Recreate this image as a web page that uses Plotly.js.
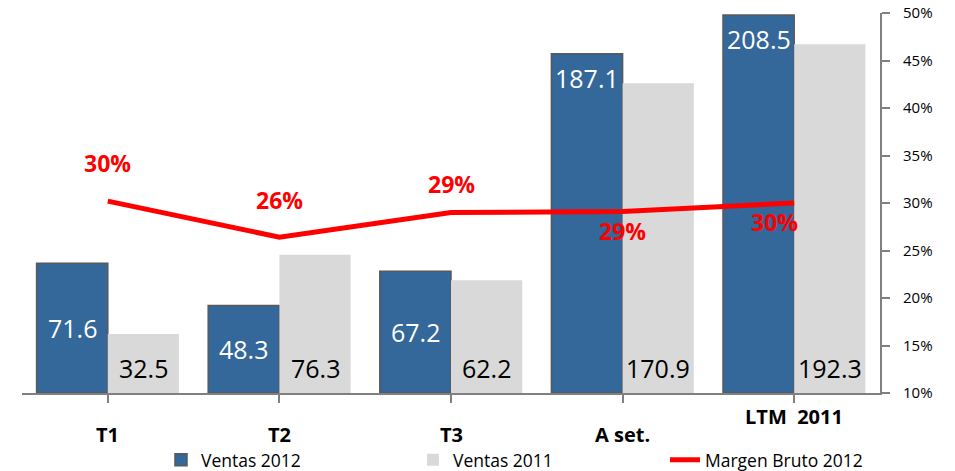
<!DOCTYPE html>
<html>
<head>
<meta charset="utf-8">
<script src="https://cdn.plot.ly/plotly-3.0.1.min.js"></script>
<style>html,body{margin:0;padding:0;background:#fff;}#chart{width:955px;height:471px;}</style>
</head>
<body>
<div id="chart"></div>
<script>
const categories = ['T1', 'T2', 'T3', 'A set.', 'LTM  2011'];
const ventas2012 = [71.6, 48.3, 67.2, 187.1, 208.5];
const ventas2011 = [32.5, 76.3, 62.2, 170.9, 192.3];
const margen2012 = [30.2, 26.4, 29.0, 29.1, 30.0];
const yTicks = [10, 15, 20, 25, 30, 35, 40, 45, 50];

const FONT = 'Open Sans, Noto Sans, sans-serif';
const idx = categories.map((c, i) => i);

const traces = [
  {
    type: 'bar', name: 'Ventas 2012', x: idx, y: ventas2012,
    marker: {color: '#34679A', line: {color: '#595959', width: 1.5}},
    hoverinfo: 'skip'
  },
  {
    type: 'bar', name: 'Ventas 2011', x: idx, y: ventas2011,
    marker: {color: '#D9D9D9', line: {width: 0}},
    hoverinfo: 'skip'
  },
  {
    type: 'scatter', mode: 'lines', name: 'Margen Bruto 2012', x: idx, y: margen2012,
    yaxis: 'y2', line: {color: '#FF0000', width: 5}, hoverinfo: 'skip'
  }
];

const annotations = [];
// blue bar labels
ventas2012.forEach((v, i) => {
  const tall = v > 100;
  annotations.push({
    xref: 'x', yref: 'y', x: i - 0.2075, y: tall ? v : v / 2,
    yshift: tall ? -24 : 0, yanchor: 'middle', showarrow: false,
    text: v.toFixed(1), font: {family: FONT, size: 25, color: '#FFFFFF'}
  });
});
// gray bar labels
ventas2011.forEach((v, i) => {
  annotations.push({
    xref: 'x', yref: 'y', x: i + 0.2075, y: 0,
    yshift: 25, yanchor: 'middle', showarrow: false,
    text: v.toFixed(1), font: {family: FONT, size: 25, color: '#000000'}
  });
});
// margin labels
const mShiftY = [38, 37, 29, -19, -19];
const mShiftX = [0, 0, 0, 0, -20];
margen2012.forEach((v, i) => {
  annotations.push({
    xref: 'x', yref: 'y2', x: i, y: v, xshift: mShiftX[i], yshift: mShiftY[i],
    yanchor: 'middle', showarrow: false,
    text: Math.round(v) + '%', font: {family: FONT, size: 23, color: '#FF0000', weight: 'bold'}
  });
});
// category labels
categories.forEach((c, i) => {
  const last = i === categories.length - 1;
  annotations.push({
    xref: 'x', yref: 'paper', x: i, y: last ? -0.063 : -0.108,
    yanchor: 'middle', showarrow: false,
    text: '<b>' + c + '</b>', font: {family: FONT, size: 20, color: '#000000'}
  });
});

const layout = {
  width: 955, height: 471,
  margin: {l: 22, r: 75, t: 13, b: 78, autoexpand: false},
  paper_bgcolor: '#FFFFFF', plot_bgcolor: '#FFFFFF',
  font: {family: FONT, color: '#000000'},
  barmode: 'group', bargap: 0.17, bargroupgap: 0,
  showlegend: true,
  legend: {
    orientation: 'h', x: 0.162, xanchor: 'left', y: -0.176, yanchor: 'middle',
    font: {family: FONT, size: 17.5, color: '#000000'},
    entrywidth: 207, entrywidthmode: 'pixels', traceorder: 'normal',
    bgcolor: 'rgba(0,0,0,0)'
  },
  xaxis: {
    range: [-0.5, 4.5], tickmode: 'array', tickvals: idx, ticktext: categories.map(() => ''),
    tickson: 'boundaries', ticks: 'outside', ticklen: 8, tickcolor: '#808080', tickwidth: 2,
    showline: true, linecolor: '#808080', linewidth: 2, showgrid: false, zeroline: false,
    fixedrange: true
  },
  yaxis: {
    range: [0, 209.6], visible: false, showgrid: false, zeroline: false, fixedrange: true
  },
  yaxis2: {
    overlaying: 'y', side: 'right', range: [10, 50],
    tickmode: 'array', tickvals: yTicks, ticktext: yTicks.map(t => t + '%'),
    ticks: 'outside', ticklen: 8, tickcolor: '#808080', tickwidth: 2,
    showline: true, linecolor: '#808080', linewidth: 2, showgrid: false, zeroline: false,
    tickfont: {family: FONT, size: 15, color: '#000000'}, ticklabelstandoff: 10,
    fixedrange: true
  },
  annotations: annotations
};

Plotly.newPlot('chart', traces, layout, {displayModeBar: false, staticPlot: true});
</script>
</body>
</html>
